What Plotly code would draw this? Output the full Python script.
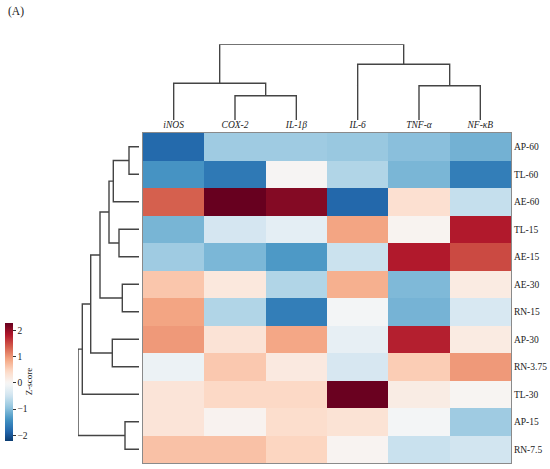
import plotly.graph_objects as go

# ---------------- data ----------------
col_labels = ["iNOS", "COX-2", "IL-1β", "IL-6", "TNF-α", "NF-κB"]
row_labels = ["AP-60", "TL-60", "AE-60", "TL-15", "AE-15", "AE-30",
              "RN-15", "AP-30", "RN-3.75", "TL-30", "AP-15", "RN-7.5"]

# z-scores, one list per row (columns in col_labels order)
zscores = [
    [-1.80, -0.83, -0.83, -0.87, -0.97, -1.10],   # AP-60
    [-1.38, -1.65,  0.02, -0.69, -1.06, -1.60],   # TL-60
    [ 1.38,  2.30,  2.12, -1.82,  0.37, -0.55],   # AE-60
    [-1.07, -0.41, -0.23,  0.92,  0.07,  1.84],   # TL-15
    [-0.83, -1.05, -1.33, -0.50,  1.84,  1.52],   # AE-15
    [ 0.64,  0.25, -0.69,  0.83, -1.03,  0.20],   # AE-30
    [ 0.92, -0.69, -1.60, -0.05, -1.08, -0.37],   # RN-15
    [ 1.00,  0.32,  0.90, -0.20,  1.80,  0.20],   # AP-30
    [-0.14,  0.62,  0.22, -0.39,  0.58,  1.00],   # RN-3.75
    [ 0.30,  0.46,  0.46,  2.28,  0.18,  0.04],   # TL-30
    [ 0.30,  0.08,  0.40,  0.33, -0.05, -0.83],   # AP-15
    [ 0.68,  0.68,  0.50,  0.06, -0.52, -0.44],   # RN-7.5
]

# column dendrogram linkage (node ids: leaves 0..5, then new nodes 6,7,...)
col_merge_a = [1, 4, 0, 3, 8]
col_merge_b = [2, 5, 6, 7, 9]
col_merge_h = [24.3, 34.3, 36.7, 55.7, 75.7]

# row dendrogram linkage (leaves 0..11, new nodes 12,13,...)
row_merge_a = [0, 10, 5, 3, 2, 7, 16, 18, 19, 20, 21]
row_merge_b = [1, 11, 6, 4, 12, 8, 15, 14, 17, 9, 13]
row_merge_h = [10.0, 14.0, 16.7, 20.0, 25.7, 26.7, 30.0, 39.0, 48.3, 56.7, 61.0]

z_min, z_max = -2.2, 2.3

# ---------------- helpers ----------------
rdbu_r = ["#053061", "#2166ac", "#4393c3", "#92c5de", "#d1e5f0", "#f7f7f7",
          "#fddbc7", "#f4a582", "#d6604d", "#b2182b", "#67001f"]


def hex2rgb(h):
    h = h.lstrip("#")
    return [int(h[i:i + 2], 16) for i in (0, 2, 4)]


def cmap(t):
    t = min(max(t, 0.0), 1.0)
    pos = t * (len(rdbu_r) - 1)
    i = min(int(pos), len(rdbu_r) - 2)
    f = pos - i
    a, b = hex2rgb(rdbu_r[i]), hex2rgb(rdbu_r[i + 1])
    c = [round(a[k] + (b[k] - a[k]) * f) for k in range(3)]
    return "rgb(%d,%d,%d)" % tuple(c)


# colormap centred on 0 (symmetric about the larger magnitude), sliced to data range
vr = max(abs(z_min), abs(z_max))
colorscale = []
for k in range(41):
    s = k / 40
    v = z_min + s * (z_max - z_min)
    colorscale.append([s, cmap((v + vr) / (2 * vr))])


def dendro_segments(n, ma, mb, mh):
    pos = {i: float(i) for i in range(n)}
    hgt = {i: 0.0 for i in range(n)}
    segs = []
    for k, (a, b, h) in enumerate(zip(ma, mb, mh)):
        node = n + k
        segs.append(([pos[a], pos[a], pos[b], pos[b]], [hgt[a], h, h, hgt[b]]))
        pos[node] = (pos[a] + pos[b]) / 2
        hgt[node] = h
    return segs


W, H = 550, 469
def px_x(p):
    return p / W
def px_y(p):
    return (H - p) / H

hm_left, hm_right, hm_top, hm_bot = 143, 511, 133, 463
line_col = "#444444"
font_fam = "Liberation Serif, Times New Roman, serif"

fig = go.Figure()

fig.add_trace(go.Heatmap(
    z=zscores, x=list(range(len(col_labels))), y=list(range(len(row_labels))),
    colorscale=colorscale, zmin=z_min, zmax=z_max, xgap=0, ygap=0,
    colorbar=dict(
        x=px_x(4.7), xanchor="left", xpad=0, ypad=0,
        y=px_y(381.5), yanchor="middle", len=118, lenmode="pixels",
        thickness=8, outlinewidth=0,
        tickvals=[-2, -1, 0, 1, 2], ticks="outside", ticklen=3,
        tickcolor="#333", tickwidth=1,
        tickfont=dict(family=font_fam, size=9.5, color="#222"),
        title=dict(text="Z-score", side="right",
                   font=dict(family=font_fam, size=9, color="#222")),
    ),
    hoverinfo="skip",
))

for xs, ys in dendro_segments(len(col_labels), col_merge_a, col_merge_b, col_merge_h):
    fig.add_trace(go.Scatter(x=xs, y=ys, mode="lines", xaxis="x2", yaxis="y2",
                             line=dict(color=line_col, width=1.4),
                             cliponaxis=False, showlegend=False, hoverinfo="skip"))

for ys, xs in dendro_segments(len(row_labels), row_merge_a, row_merge_b, row_merge_h):
    fig.add_trace(go.Scatter(x=xs, y=ys, mode="lines", xaxis="x3", yaxis="y3",
                             line=dict(color=line_col, width=1.4),
                             cliponaxis=False, showlegend=False, hoverinfo="skip"))

hm_xdom = [px_x(hm_left), px_x(hm_right)]
hm_ydom = [px_y(hm_bot), px_y(hm_top)]

fig.update_layout(
    width=W, height=H, margin=dict(l=0, r=0, t=0, b=0),
    paper_bgcolor="white", plot_bgcolor="white", showlegend=False,
    xaxis=dict(domain=hm_xdom, range=[-0.5, len(col_labels) - 0.5], side="top",
               tickvals=list(range(len(col_labels))),
               ticktext=["<i>%s</i>" % c for c in col_labels],
               tickfont=dict(family=font_fam, size=9.5, color="#222"),
               ticks="", showgrid=False, zeroline=False,
               showline=True, mirror=True, linecolor="#8a8a8a", linewidth=1,
               automargin=False, anchor="y"),
    yaxis=dict(domain=hm_ydom, range=[len(row_labels) - 0.5, -0.5], side="right",
               tickvals=list(range(len(row_labels))), ticktext=row_labels,
               tickfont=dict(family=font_fam, size=9.5, color="#222"),
               ticks="", showgrid=False, zeroline=False,
               showline=True, mirror=True, linecolor="#8a8a8a", linewidth=1,
               automargin=False, anchor="x"),
    xaxis2=dict(domain=hm_xdom, range=[-0.5, len(col_labels) - 0.5], visible=False,
                anchor="y2"),
    yaxis2=dict(domain=[px_y(120), px_y(44.3)], range=[0, max(col_merge_h)],
                visible=False, anchor="x2"),
    xaxis3=dict(domain=[px_x(78), px_x(139)], range=[max(row_merge_h), 0],
                visible=False, anchor="y3"),
    yaxis3=dict(domain=hm_ydom, range=[len(row_labels) - 0.5, -0.5], visible=False,
                anchor="x3"),
    annotations=[dict(text="(A)", xref="paper", yref="paper", x=px_x(6),
                      y=px_y(3), xanchor="left", yanchor="top", showarrow=False,
                      font=dict(family=font_fam, size=11.5, color="#222"))],
)

fig.write_html("out.html", config={"displayModeBar": False},
               post_script="document.body.style.margin='0';")
